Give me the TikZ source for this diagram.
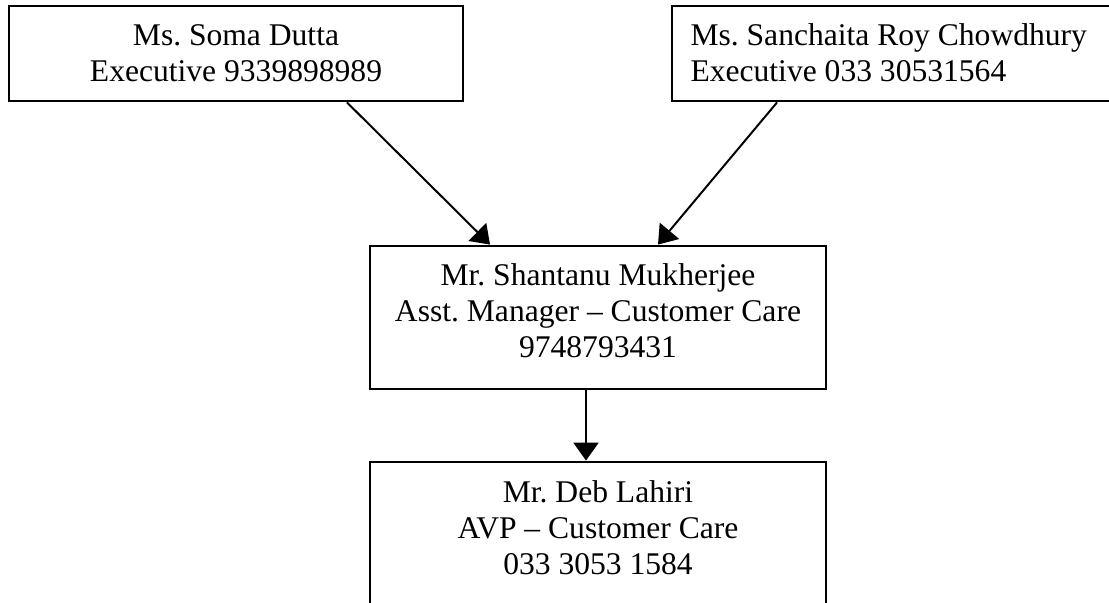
\documentclass[tikz,border=0pt]{standalone}
\usepackage{fontspec}
\setmainfont{Liberation Serif}
\usetikzlibrary{arrows.meta,calc}
\frenchspacing
\begin{document}
\begin{tikzpicture}[x={(0.38pt,0)},y={(0,-0.38pt)},
  box/.style={draw=black,line width=1.1pt,fill=none,inner sep=0pt},
  txt/.style={inner sep=0pt,font=\fontsize{12}{13.8}\selectfont\frenchspacing},
  arr/.style={draw=black,line width=0.75pt,-{Triangle[length=6.8pt,width=9.5pt]}}]
\useasboundingbox (0,0) rectangle (1109,602);
\clip (0,0) rectangle (1109,602);
\fill[white] (0,0) rectangle (1109,602);
\node[box,minimum width=454*0.38pt,minimum height=95*0.38pt] (b1) at (236,53.5) {};
\node[box,minimum width=454*0.38pt,minimum height=95*0.38pt] (b2) at (899,53.5) {};
\node[box,minimum width=456*0.38pt,minimum height=143*0.38pt] (b3) at (598,317.5) {};
\node[box,minimum width=456*0.38pt,minimum height=178*0.38pt] (b4) at (598,551) {};
\node[txt,anchor=base] (t1) at (236,45) {\begin{tabular}[t]{@{}c@{}}Ms. Soma Dutta\\Executive 9339898989\end{tabular}};
\node[txt,anchor=base west] (t2) at (690,45) {\begin{tabular}[t]{@{}l@{}}Ms. Sanchaita Roy Chowdhury\\Executive 033 30531564\end{tabular}};
\node[txt,anchor=base] (t3) at (598,285) {\begin{tabular}[t]{@{}c@{}}Mr. Shantanu Mukherjee\\Asst. Manager – Customer Care\\9748793431\end{tabular}};
\node[txt,anchor=base] (t4) at (598,502) {\begin{tabular}[t]{@{}c@{}}Mr. Deb Lahiri\\AVP – Customer Care\\033 3053 1584\end{tabular}};
\draw[arr] ($(b1.south)+(111,0)$) -- ($(b3.north)+(-108,0)$);
\draw[arr] ($(b2.south)+(-122,0)$) -- ($(b3.north)+(60,0)$);
\draw[arr] ($(b3.south)+(-12,0)$) -- ($(b4.north)+(-12,0)$);
\end{tikzpicture}
\end{document}
